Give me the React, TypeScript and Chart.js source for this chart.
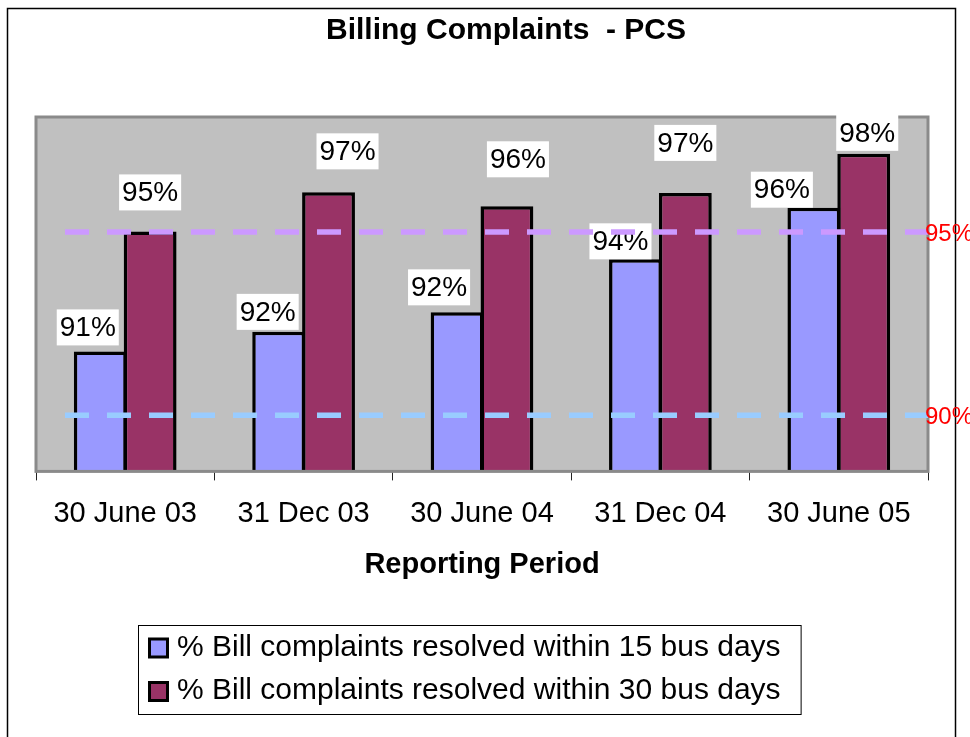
import React, { useEffect, useRef } from "react";
import { Chart, registerables } from "chart.js";

Chart.register(...registerables);

// ---------- data ----------
const TITLE = "Billing Complaints  - PCS";
const X_TITLE = "Reporting Period";
const categories = ["30 June 03", "31 Dec 03", "30 June 04", "31 Dec 04", "30 June 05"];
const seriesNames = [
  "% Bill complaints resolved within 15 bus days",
  "% Bill complaints resolved within 30 bus days",
];
const within15 = [90.9, 91.6, 92.3, 94.2, 96.05];
const within30 = [95.2, 96.6, 96.1, 96.58, 97.98];
const targetValues = [95, 90];
const targetLabels = ["95%", "90%"];

// ---------- styles ----------
const FONT = "'Liberation Sans', Arial, Helvetica, sans-serif";
const SERIES_COLORS = ["#9999ff", "#993366"];
const TARGET_COLORS = ["#cc99ff", "#99ccff"];
// label placement nudges (dx from bar centre, gap above bar top)
const LABEL_NUDGE = [
  [
    { dx: -12.5, gap: 6 },
    { dx: -11, gap: 2 },
    { dx: -18, gap: 7 },
    { dx: -15, gap: 0 },
    { dx: -32, gap: 0 },
  ],
  [
    { dx: 0, gap: 21 },
    { dx: 19, gap: 23 },
    { dx: 11, gap: 29 },
    { dx: 0, gap: 32 },
    { dx: 3.5, gap: 3 },
  ],
];

const decorPlugin = {
  id: "decor",
  beforeDraw(chart: any) {
    const { ctx, chartArea: a } = chart;
    ctx.save();
    ctx.fillStyle = "#ffffff";
    ctx.fillRect(0, 0, chart.width, chart.height);
    // outer frame
    ctx.strokeStyle = "#000";
    ctx.lineWidth = 1.5;
    ctx.strokeRect(7.5, 8.5, 948, 740);
    // plot background
    ctx.fillStyle = "#c0c0c0";
    ctx.fillRect(a.left, a.top, a.right - a.left, a.bottom - a.top);
    ctx.restore();
  },
  afterDatasetsDraw(chart: any) {
    const { ctx, chartArea: a } = chart;
    ctx.save();
    // plot border
    ctx.strokeStyle = "#8a8a8a";
    ctx.lineWidth = 3;
    ctx.strokeRect(a.left, a.top, a.right - a.left, a.bottom - a.top);

    // data labels
    ctx.font = `28px ${FONT}`;
    ctx.textAlign = "center";
    ctx.textBaseline = "middle";
    chart.data.datasets.forEach((ds: any, di: number) => {
      const meta = chart.getDatasetMeta(di);
      meta.data.forEach((bar: any, i: number) => {
        const text = Math.round(ds.data[i]) + "%";
        const nudge = LABEL_NUDGE[di][i];
        const tw = ctx.measureText(text).width;
        const bw = tw + 6;
        const bh = 36;
        const cx = bar.x + nudge.dx;
        const bottom = bar.y - nudge.gap;
        ctx.fillStyle = "#ffffff";
        ctx.fillRect(cx - bw / 2, bottom - bh, bw, bh);
        ctx.fillStyle = "#000000";
        ctx.fillText(text, cx, bottom - bh / 2 + 1);
      });
    });

    // target lines
    const y2 = chart.scales.y2;
    targetValues.forEach((v, i) => {
      const y = y2.getPixelForValue(v);
      ctx.save();
      ctx.beginPath();
      ctx.setLineDash([24, 18]);
      ctx.lineWidth = 5.5;
      ctx.strokeStyle = TARGET_COLORS[i];
      ctx.moveTo(a.left + 29, y);
      ctx.lineTo(a.right, y);
      ctx.stroke();
      ctx.restore();
      ctx.fillStyle = "#ff0000";
      ctx.font = `24px ${FONT}`;
      ctx.textAlign = "left";
      ctx.textBaseline = "middle";
      ctx.fillText(targetLabels[i], a.right - 3, y + 2);
    });
    ctx.restore();
  },
  afterDraw(chart: any) {
    const { ctx } = chart;
    ctx.save();
    // title
    ctx.fillStyle = "#000";
    ctx.font = `bold 30px ${FONT}`;
    ctx.textAlign = "center";
    ctx.textBaseline = "middle";
    ctx.fillText(TITLE, 506, 31);

    // legend
    ctx.font = `30px ${FONT}`;
    const tw = Math.max(...seriesNames.map((n) => ctx.measureText(n).width));
    const lx = 138;
    const ly = 625;
    const w = 10 + 21 + 8 + tw + 20;
    const h = 89;
    ctx.fillStyle = "#fff";
    ctx.fillRect(lx, ly, w, h);
    ctx.strokeStyle = "#000";
    ctx.lineWidth = 1;
    ctx.strokeRect(lx + 0.5, ly + 0.5, w, h);
    seriesNames.forEach((name, i) => {
      const cy = 647.5 + i * 43.5;
      ctx.fillStyle = SERIES_COLORS[i];
      ctx.fillRect(149.5, cy - 8.5, 18, 18);
      ctx.lineWidth = 3;
      ctx.strokeStyle = "#000";
      ctx.strokeRect(149.5, cy - 8.5, 18, 18);
      ctx.fillStyle = "#000";
      ctx.textAlign = "left";
      ctx.textBaseline = "middle";
      ctx.fillText(name, 177, cy);
    });
    ctx.restore();
  },
};

export default function App() {
  const ref = useRef<HTMLCanvasElement>(null);
  useEffect(() => {
    const canvas = ref.current!;
    const chart = new Chart(canvas, {
      type: "bar",
      data: {
        labels: categories,
        datasets: [
          {
            label: seriesNames[0],
            data: within15,
            backgroundColor: SERIES_COLORS[0],
            borderColor: "#000",
            borderWidth: 3.5,
            borderSkipped: "bottom",
            categoryPercentage: 0.559,
            barPercentage: 1.06,
            yAxisID: "y",
          },
          {
            label: seriesNames[1],
            data: within30,
            backgroundColor: SERIES_COLORS[1],
            borderColor: "#000",
            borderWidth: 3.5,
            borderSkipped: "bottom",
            categoryPercentage: 0.559,
            barPercentage: 1.06,
            yAxisID: "y",
          },
        ],
      },
      options: {
        responsive: false,
        animation: false,
        devicePixelRatio: 1,
        layout: { padding: { left: 36, right: 42, top: 117, bottom: 155 } },
        plugins: {
          legend: { display: false },
          title: { display: false },
          tooltip: { enabled: false },
        },
        scales: {
          x: {
            offset: true,
            grid: {
              display: true,
              offset: true,
              drawOnChartArea: false,
              drawTicks: true,
              tickLength: 9,
              color: "#222",
              lineWidth: 1,
            },
            border: { display: false },
            ticks: {
              color: "#000",
              font: { family: FONT, size: 29 },
              padding: 16,
              maxRotation: 0,
              autoSkip: false,
            },
            title: {
              display: true,
              text: X_TITLE,
              color: "#000",
              font: { family: FONT, size: 29, weight: "bold" },
              padding: { top: 0, bottom: 0 },
            },
          },
          y: { display: false, min: 86.6, max: 99.3 },
          y2: { display: false, min: 88.47, max: 98.14, position: "right" },
        },
      },
      plugins: [decorPlugin],
    } as any);
    return () => chart.destroy();
  }, []);
  return (
    <div style={{ position: "absolute", left: 0, top: 0, width: 970, height: 737, background: "#fff" }}>
      <canvas ref={ref} width={970} height={737} style={{ display: "block", width: 970, height: 737 }} />
    </div>
  );
}
